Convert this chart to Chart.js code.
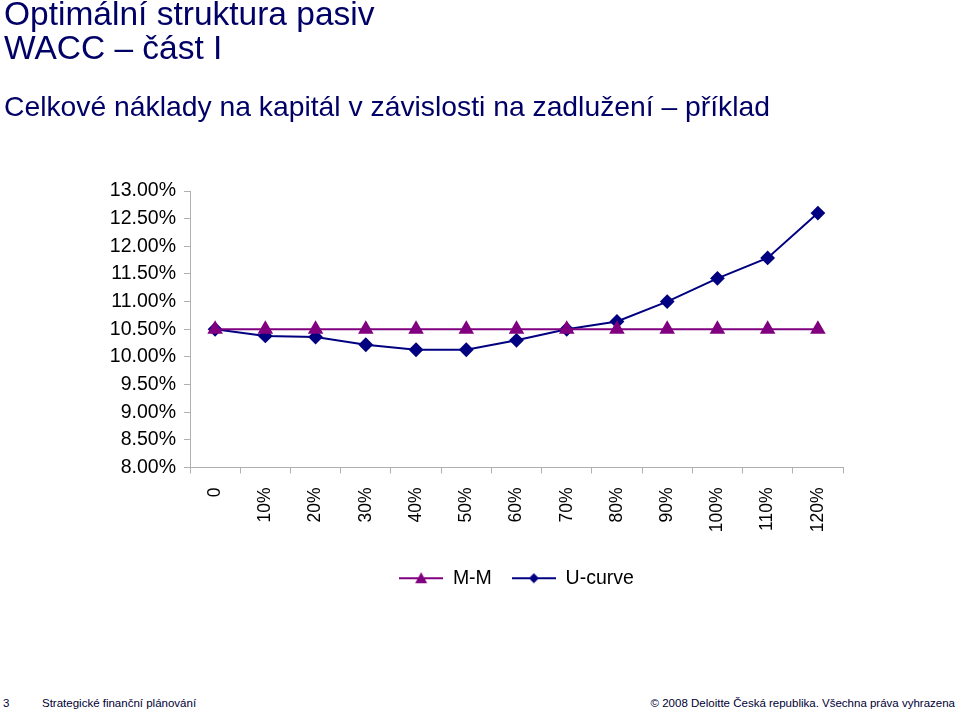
<!DOCTYPE html>
<html>
<head>
<meta charset="utf-8">
<script src="https://cdn.jsdelivr.net/npm/chart.js@4/dist/chart.umd.min.js"></script>
<style>
  body { margin: 0; background: #fff; font-family: "Liberation Sans", Arial, sans-serif; }
  .page { position: relative; width: 960px; height: 715px; overflow: hidden; }
  .title { position: absolute; left: 4px; top: -3px; color: #000066; font-size: 33.5px; line-height: 34px; }
  .subtitle { position: absolute; left: 4px; top: 90px; color: #000066; font-size: 28.3px; }
  .chart { position: absolute; left: 0; top: 0; width: 960px; height: 620px; }
  .footer { position: absolute; top: 697px; font-size: 11.5px; color: #000033; }
</style>
</head>
<body>
<div class="page">
  <div class="chart"><canvas id="grafico"></canvas></div>
  <div class="title">Optimální struktura pasiv<br>WACC – část I</div>
  <div class="subtitle">Celkové náklady na kapitál v závislosti na zadlužení – příklad</div>
  <div class="footer" style="left:3px">3</div>
  <div class="footer" style="left:42px">Strategické finanční plánování</div>
  <div class="footer" style="right:5px">© 2008 Deloitte Česká republika. Všechna práva vyhrazena</div>
</div>
<script>
// podíl dluhu (osa x)
const categories = ["0", "10%", "20%", "30%", "40%", "50%", "60%", "70%", "80%", "90%", "100%", "110%", "120%"];
// WACC v %
const mmValues = [10.5, 10.5, 10.5, 10.5, 10.5, 10.5, 10.5, 10.5, 10.5, 10.5, 10.5, 10.5, 10.5];
const uCurveValues = [10.5, 10.38, 10.36, 10.22, 10.13, 10.13, 10.3, 10.5, 10.64, 11.0, 11.42, 11.79, 12.6];
const yTicks = [8, 8.5, 9, 9.5, 10, 10.5, 11, 11.5, 12, 12.5, 13];

const MM_COLOR = "#800080";
const U_COLOR = "#000080";

// legend symbol: short line with marker in the middle (like Excel)
function legendSymbol(color, style) {
  const c = document.createElement("canvas");
  c.width = 44;
  c.height = 14;
  const ctx = c.getContext("2d");
  ctx.strokeStyle = color;
  ctx.lineWidth = 2;
  ctx.beginPath();
  ctx.moveTo(0, 7);
  ctx.lineTo(44, 7);
  ctx.stroke();
  ctx.fillStyle = color;
  ctx.beginPath();
  if (style === "triangle") {
    ctx.moveTo(22, 1);
    ctx.lineTo(28, 12);
    ctx.lineTo(16, 12);
  } else {
    ctx.moveTo(22, 2);
    ctx.lineTo(27, 7);
    ctx.lineTo(22, 12);
    ctx.lineTo(17, 7);
  }
  ctx.closePath();
  ctx.fill();
  return c;
}

const family = "'Liberation Sans', Arial, sans-serif";

new Chart(document.getElementById("grafico").getContext("2d"), {
  type: "line",
  data: {
    labels: categories,
    datasets: [
      {
        label: "M-M",
        data: mmValues,
        borderColor: MM_COLOR,
        backgroundColor: MM_COLOR,
        borderWidth: 2,
        pointStyle: "triangle",
        pointRadius: 7,
        tension: 0,
      },
      {
        label: "U-curve",
        data: uCurveValues,
        borderColor: U_COLOR,
        backgroundColor: U_COLOR,
        borderWidth: 2,
        pointStyle: "rectRot",
        pointRadius: 6,
        tension: 0,
      },
    ],
  },
  options: {
    responsive: true,
    maintainAspectRatio: false,
    animation: false,
    layout: { padding: { top: 191, right: 117, left: 0, bottom: 22 } },
    plugins: {
      tooltip: { enabled: false },
      legend: {
        position: "bottom",
        fullSize: false,
        labels: {
          color: "#000",
          font: { family: family, size: 19.5 },
          usePointStyle: true,
          pointStyleWidth: 44,
          boxHeight: 14,
          padding: 20,
          generateLabels: (chart) => {
            const items = Chart.defaults.plugins.legend.labels.generateLabels(chart);
            items[0].pointStyle = legendSymbol(MM_COLOR, "triangle");
            items[1].pointStyle = legendSymbol(U_COLOR, "diamond");
            return items;
          },
        },
      },
    },
    scales: {
      x: {
        offset: true,
        grid: { offset: true, drawOnChartArea: false, drawTicks: true, tickLength: 6, color: "#b0b0b0" },
        border: { color: "#b0b0b0" },
        ticks: { color: "#000", font: { family: family, size: 17.5 }, minRotation: 90, maxRotation: 90, padding: 14, autoSkip: false },
        afterFit: (scale) => { scale.height = 81; },
      },
      y: {
        min: 8,
        max: 13,
        afterBuildTicks: (scale) => { scale.ticks = yTicks.map((v) => ({ value: v })); },
        grid: { drawOnChartArea: false, drawTicks: true, tickLength: 6, color: "#b0b0b0" },
        border: { color: "#b0b0b0" },
        ticks: { color: "#000", font: { family: family, size: 19.5 }, padding: 8, callback: (v) => v.toFixed(2) + "%" },
        afterFit: (scale) => { scale.width = 190; },
      },
    },
  },
});
</script>
</body>
</html>
